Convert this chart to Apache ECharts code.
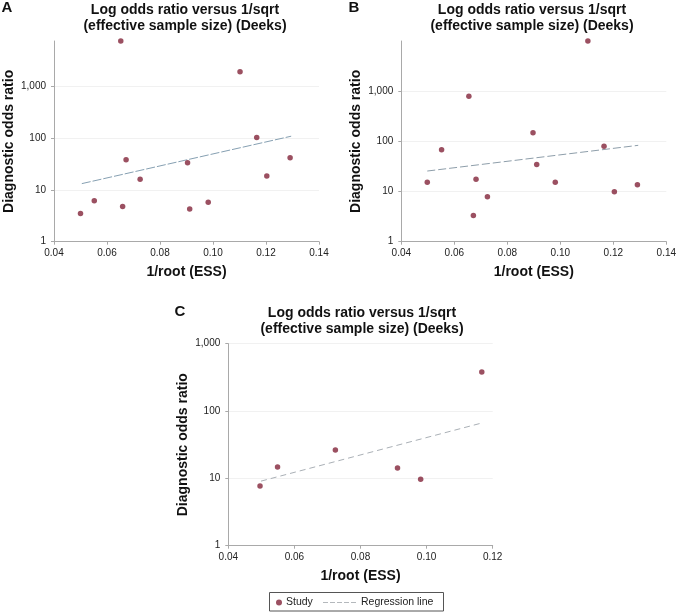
<!DOCTYPE html>
<html>
<head>
<meta charset="utf-8">
<script src="https://cdn.jsdelivr.net/npm/echarts@6/dist/echarts.min.js"></script>
<style>
html,body{margin:0;padding:0;background:#fff;}
#main{width:677px;height:612px;}
</style>
</head>
<body>
<div id="main"></div>
<script>
// ---- Data ----
const essA = [0.0500, 0.0552, 0.0652, 0.0659, 0.0672, 0.0725, 0.0904, 0.0912, 0.0982, 0.1102, 0.1165, 0.1203, 0.1291];
const dorA = [3.5, 6.2, 7650, 4.8, 38.6, 16.1, 33.8, 4.3, 5.8, 1950, 104, 18.7, 42.3];
const regXA = [0.0505, 0.1295];
const regYA = [13.3, 110];

const essB = [0.0498, 0.0552, 0.0655, 0.0672, 0.0682, 0.0725, 0.0897, 0.0911, 0.0981, 0.1104, 0.1165, 0.1204, 0.1291];
const dorB = [15.2, 67.8, 782, 3.34, 17.4, 7.87, 148, 34.6, 15.2, 9880, 79, 9.9, 13.6];
const regXB = [0.0498, 0.1294];
const regYB = [25.5, 82.8];

const essC = [0.0496, 0.0549, 0.0724, 0.0912, 0.0982, 0.1167];
const dorC = [7.7, 14.7, 26.4, 14.2, 9.67, 379];
const regXC = [0.0499, 0.1167];
const regYC = [9.1, 66.4];

const yTickValues = [1, 10, 100, 1000];
const panelLetters = ['A', 'B', 'C'];
const panelTitle = 'Log odds ratio versus 1/sqrt\n(effective sample size) (Deeks)';
const xName = '1/root (ESS)';
const yName = 'Diagnostic odds ratio';
const legendNames = ['Study', 'Regression line'];

// ---- Helpers ----
const FONT = 'Arial, "Liberation Sans", sans-serif';
function pairs(xs, ys) { return xs.map((x, i) => [x, ys[i]]); }
function fmtPow(v) {
  const l = Math.log10(v);
  if (Math.abs(l - Math.round(l)) > 1e-6) return '';
  const n = Math.round(Math.pow(10, Math.round(l)));
  return String(n).replace(/\B(?=(\d{3})+(?!\d))/g, ',');
}
const axisColor = '#a9a9a9';
const labelColor = '#222';

function xAxis(gi, max) {
  return {
    gridIndex: gi, type: 'value', min: 0.04, max: max, interval: 0.02,
    name: xName, nameLocation: 'middle', nameGap: 23.5,
    nameTextStyle: { fontFamily: FONT, fontSize: 14, fontWeight: 'bold', color: '#111' },
    axisLine: { show: true, onZero: false, lineStyle: { color: axisColor, width: 1 } },
    axisTick: { show: true, length: 3, inside: false, lineStyle: { color: axisColor } },
    axisLabel: { margin: 7, fontFamily: FONT, fontSize: 10, color: labelColor,
      formatter: v => v.toFixed(2) },
    splitLine: { show: false }
  };
}
function yAxis(gi, max) {
  return {
    gridIndex: gi, type: 'log', logBase: 10, min: 1, max: max,
    name: yName, nameLocation: 'middle', nameGap: 38, nameRotate: 90,
    nameTextStyle: { fontFamily: FONT, fontSize: 14, fontWeight: 'bold', color: '#111' },
    axisLine: { show: true, onZero: false, lineStyle: { color: axisColor, width: 1 } },
    axisTick: { show: true, length: 3, inside: false, lineStyle: { color: axisColor },
      customValues: yTickValues },
    axisLabel: { margin: 8, fontFamily: FONT, fontSize: 10, color: labelColor, formatter: fmtPow,
      customValues: yTickValues },
    splitLine: { show: true, lineStyle: { color: '#f1f1f1', width: 1 } },
    minorTick: { show: false }, minorSplitLine: { show: false }
  };
}
const dotColor = '#82243a';
function scatter(i, xs, ys) {
  return { name: legendNames[0], type: 'scatter', xAxisIndex: i, yAxisIndex: i,
    data: pairs(xs, ys), symbol: 'circle', symbolSize: 5.5, clip: false,
    itemStyle: { color: dotColor }, z: 3 };
}
function regLine(i, xs, ys, color, dash) {
  return { name: legendNames[1], type: 'line', xAxisIndex: i, yAxisIndex: i,
    data: pairs(xs, ys), symbol: 'none', showSymbol: false, clip: false,
    itemStyle: { color: color },
    lineStyle: { color: color, width: 1, type: dash }, z: 2 };
}

function titleText(x, y) {
  return { type: 'text', x: x, y: y, style: { text: panelTitle, font: 'bold 14px ' + FONT,
    fill: '#111', align: 'center', verticalAlign: 'top', textAlign: 'center', textVerticalAlign: 'top', lineHeight: 16 } };
}
function letterText(t, x, y) {
  return { type: 'text', x: x, y: y, style: { text: t, font: 'bold 15px ' + FONT,
    fill: '#111', align: 'center', verticalAlign: 'middle', textAlign: 'center', textVerticalAlign: 'middle' } };
}

const dashIcon = 'path://M0 0h5v1h-5z M7 0h5v1h-5z M14 0h5v1h-5z M21 0h5v1h-5z M28 0h5v1h-5z';

const chart = echarts.init(document.getElementById('main'), null, { renderer: 'canvas' });
const option = {
  backgroundColor: '#fff',
  animation: false,
  grid: [
    { left: 54, right: 358, top: 41, bottom: 370.3, outerBoundsMode: 'none', containLabel: false },
    { left: 401.3, right: 10.7, top: 41, bottom: 370.3, outerBoundsMode: 'none', containLabel: false },
    { left: 228.3, right: 184.3, top: 343.7, bottom: 66.3, outerBoundsMode: 'none', containLabel: false }
  ],
  xAxis: [xAxis(0, 0.14), xAxis(1, 0.14), xAxis(2, 0.12)],
  yAxis: [yAxis(0, Math.max(...dorA)), yAxis(1, Math.max(...dorB)), yAxis(2, 1000)],
  legend: [
    { data: [{ name: legendNames[0], icon: 'circle' }], left: 276, top: 597, padding: 0,
      itemWidth: 6, itemHeight: 6, itemGap: 0,
      textStyle: { fontFamily: FONT, fontSize: 10.5, color: '#222', padding: [0, 0, 0, -1] } },
    { data: [{ name: legendNames[1], icon: dashIcon, itemStyle: { color: '#b4b8bc' } }],
      left: 323, top: 597, padding: 0,
      itemWidth: 33, itemHeight: 10, itemGap: 0,
      textStyle: { fontFamily: FONT, fontSize: 10.5, color: '#222' } }
  ],
  graphic: [
    titleText(185, 2),
    titleText(532, 2),
    titleText(362, 305.5),
    letterText(panelLetters[0], 7, 8),
    letterText(panelLetters[1], 354, 8),
    letterText(panelLetters[2], 180, 312),
    { type: 'rect', shape: { x: 269.5, y: 592.5, width: 174, height: 18.5 },
      style: { fill: 'none', stroke: '#555', lineWidth: 1 }, silent: true }
  ],
  series: [
    regLine(0, regXA, regYA, '#86a0b2', [9, 2]),
    scatter(0, essA, dorA),
    regLine(1, regXB, regYB, '#8e9eaa', [8, 3]),
    scatter(1, essB, dorB),
    regLine(2, regXC, regYC, '#aab0b6', [6, 4]),
    scatter(2, essC, dorC)
  ]
};
chart.setOption(option);
</script>
</body>
</html>
